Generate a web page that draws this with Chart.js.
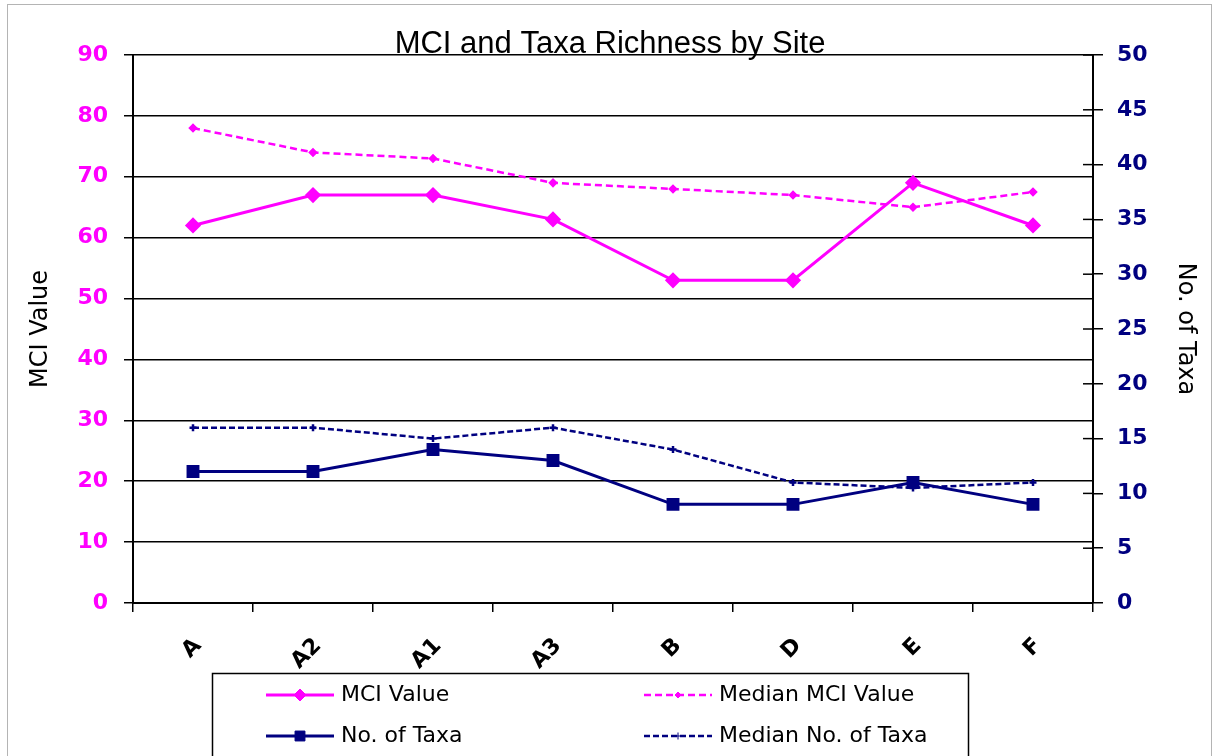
<!DOCTYPE html>
<html>
<head>
<meta charset="utf-8">
<title>MCI and Taxa Richness by Site</title>
<script src="https://cdn.jsdelivr.net/npm/chart.js@4.4.1/dist/chart.umd.min.js"></script>
<style>
  html, body { margin: 0; padding: 0; background: #fff; }
  #wrap { width: 1217px; height: 756px; overflow: hidden; }
</style>
</head>
<body>
<div id="wrap"><canvas id="siteChart" width="1217" height="756"></canvas></div>
<script>
// Values
const sites = ["A", "A2", "A1", "A3", "B", "D", "E", "F"];
const mciValue = [62, 67, 67, 63, 53, 53, 69, 62];
const medianMci = [78, 74, 73, 69, 68, 67, 65, 67.5];
const taxaCount = [12, 12, 14, 13, 9, 9, 11, 9];
const medianTaxa = [16, 16, 15, 16, 14, 11, 10.5, 11];

const MAGENTA = "#ff00ff";
const NAVY = "#000080";
const tickFont = { family: "DejaVu Sans", weight: "bold", size: 22 };

// Chart title, outer frame, legend box and right-axis inner ticks
const decorations = {
    id: "decorations",
    afterDraw(chart) {
        const ctx = chart.ctx;
        const area = chart.chartArea;
        ctx.save();

        // inner half of the "cross" tick marks on the right axis
        const y1 = chart.scales.y1;
        ctx.strokeStyle = "#000";
        ctx.lineWidth = 1.5;
        y1.ticks.forEach(t => {
            const y = y1.getPixelForValue(t.value);
            ctx.beginPath();
            ctx.moveTo(area.right - 10, y);
            ctx.lineTo(area.right, y);
            ctx.stroke();
        });

        // title
        ctx.fillStyle = "#000";
        ctx.font = "31px 'Liberation Sans', Arial, sans-serif";
        ctx.textAlign = "center";
        ctx.textBaseline = "alphabetic";
        ctx.fillText("MCI and Taxa Richness by Site", 610, 53);

        // outer frame
        ctx.strokeStyle = "#b4b4b4";
        ctx.lineWidth = 1;
        ctx.strokeRect(7.5, 4.5, 1204, 800);

        // legend
        const box = { x: 212.5, y: 673.5, w: 756, h: 120 };
        ctx.fillStyle = "#fff";
        ctx.fillRect(box.x, box.y, box.w, box.h);
        ctx.strokeStyle = "#000";
        ctx.lineWidth = 1.5;
        ctx.strokeRect(box.x, box.y, box.w, box.h);

        const cols = [266, 644];
        const rows = [695, 736];
        ctx.font = "22px 'DejaVu Sans', sans-serif";
        ctx.textAlign = "left";
        ctx.textBaseline = "middle";
        chart.data.datasets.forEach((ds, i) => {
            const x = cols[i % 2];
            const y = rows[Math.floor(i / 2)];
            ctx.strokeStyle = ds.borderColor;
            ctx.lineWidth = ds.borderWidth;
            ctx.setLineDash(ds.borderDash || []);
            ctx.beginPath();
            ctx.moveTo(x, y);
            ctx.lineTo(x + 68, y);
            ctx.stroke();
            ctx.setLineDash([]);
            ctx.fillStyle = ds.pointBackgroundColor;
            ctx.strokeStyle = ds.pointBorderColor;
            ctx.lineWidth = 1;
            Chart.helpers.drawPoint(ctx, {
                pointStyle: ds.pointStyle,
                radius: ds.pointRadius,
                rotation: 0,
                borderWidth: 1
            }, x + 34, y);
            ctx.fillStyle = "#000";
            ctx.fillText(ds.label, x + 75, y);
        });
        ctx.restore();
    }
};

const ctx = document.getElementById("siteChart").getContext("2d");
new Chart(ctx, {
    type: "line",
    data: {
        labels: sites,
        datasets: [
            {
                label: "MCI Value",
                data: mciValue,
                yAxisID: "y",
                borderColor: MAGENTA,
                borderWidth: 3,
                pointStyle: "rectRot",
                pointRadius: 6,
                pointBackgroundColor: MAGENTA,
                pointBorderColor: MAGENTA,
            },
            {
                label: "Median MCI Value",
                data: medianMci,
                yAxisID: "y",
                borderColor: MAGENTA,
                borderWidth: 2.5,
                borderDash: [7, 4],
                pointStyle: "rectRot",
                pointRadius: 3,
                pointBackgroundColor: MAGENTA,
                pointBorderColor: MAGENTA,
            },
            {
                label: "No. of Taxa",
                data: taxaCount,
                yAxisID: "y1",
                borderColor: NAVY,
                borderWidth: 3,
                pointStyle: "rect",
                pointRadius: 7,
                pointBackgroundColor: NAVY,
                pointBorderColor: NAVY,
            },
            {
                label: "Median No. of Taxa",
                data: medianTaxa,
                yAxisID: "y1",
                borderColor: NAVY,
                borderWidth: 2.5,
                borderDash: [6, 3],
                pointStyle: "cross",
                pointRadius: 3.5,
                pointBackgroundColor: NAVY,
                pointBorderColor: NAVY,
            },
        ],
    },
    options: {
        responsive: false,
        animation: false,
        layout: { padding: { top: 55, left: 0, right: 0, bottom: 0 } },
        elements: { line: { tension: 0 } },
        plugins: {
            legend: { display: false },
            title: { display: false },
            tooltip: { enabled: false },
        },
        scales: {
            x: {
                offset: true,
                grid: { offset: true, drawOnChartArea: false, color: "#000", lineWidth: 1.5, tickLength: 9 },
                border: { color: "#000", width: 2 },
                ticks: { color: "#000", font: tickFont, minRotation: 45, maxRotation: 45, padding: 21, labelOffset: 5 },
                afterFit: s => { s.height = 153; },
            },
            y: {
                position: "left",
                min: 0,
                max: 90,
                ticks: { stepSize: 10, color: MAGENTA, font: tickFont, padding: 16 },
                grid: { color: "#000", lineWidth: 1.5, tickLength: 9 },
                border: { color: "#000", width: 2 },
                title: {
                    display: true,
                    text: "MCI Value",
                    color: "#000",
                    font: { family: "DejaVu Sans", size: 24 },
                    padding: { top: 26, bottom: 0 },
                },
                afterFit: s => { s.width = 133; },
            },
            y1: {
                position: "right",
                min: 0,
                max: 50,
                ticks: { stepSize: 5, color: NAVY, font: tickFont, padding: 14 },
                grid: { drawOnChartArea: false, color: "#000", lineWidth: 1.5, tickLength: 10 },
                border: { color: "#000", width: 2 },
                title: {
                    display: true,
                    text: "No. of Taxa",
                    color: "#000",
                    font: { family: "DejaVu Sans", size: 24 },
                    padding: { top: 17, bottom: 0 },
                },
                afterFit: s => { s.width = 124; },
            },
        },
    },
    plugins: [decorations],
});
</script>
</body>
</html>
